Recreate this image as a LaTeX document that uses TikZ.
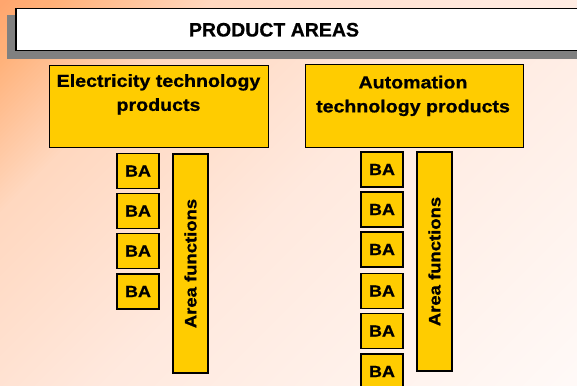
\documentclass[tikz,border=0pt]{standalone}
\usepackage{fontspec}
\setmainfont{Liberation Sans}
\newfontfamily\boxfont{Liberation Sans Bold}[FakeStretch=1.12, FakeBold=0.8]
\newfontfamily\titlefont{Liberation Sans Bold}[FakeBold=0.6]
\definecolor{ybox}{RGB}{255,204,0}
\definecolor{shadowgray}{RGB}{128,128,128}
\tikzset{
  ybox/.style={draw=black, fill=ybox, line width=1.2pt, inner sep=0pt, anchor=north west},
  bab/.style={draw=black, fill=ybox, line width=1.2pt, inner sep=0pt, minimum width=42pt, minimum height=35pt, font=\boxfont\fontsize{16}{19}\selectfont},
  afbox/.style={draw=black, fill=ybox, line width=1.2pt, inner sep=0pt, rotate=90, minimum width=219pt, minimum height=35pt, font=\boxfont\fontsize{16.5}{19}\selectfont},
  headtext/.style={inner sep=0pt, anchor=north, align=center, font=\boxfont\fontsize{17.5}{24}\selectfont},
}
\begin{document}
\begin{tikzpicture}[x=1pt,y=-1pt]
\useasboundingbox (0,0) rectangle (577,385);
\clip (0,0) rectangle (577,385);
% diagonal background gradient, drawn as thin bands
\foreach \s in {0,4,...,964}{
  \pgfmathsetmacro\t{\s/962}
  \pgfmathtruncatemacro\gv{\t<0.06 ? 166+12*\t/0.06 : (\t<0.22 ? 178+38*(\t-0.06)/0.16 : (\t<0.5 ? 216+17*(\t-0.22)/0.28 : 233+17*(\t-0.5)/0.5))}
  \pgfmathtruncatemacro\bv{\t<0.06 ? 110+12*\t/0.06 : (\t<0.22 ? 122+70*(\t-0.06)/0.16 : (\t<0.5 ? 192+30*(\t-0.22)/0.28 : 222+26*(\t-0.5)/0.5))}
  \definecolor{bandc}{RGB}{255,\gv,\bv}
  \fill[bandc] (\s,0) -- (\s+5,0) -- (\s+5-420,420) -- (\s-420,420) -- cycle;
}
% title
\fill[shadowgray] (7,15) rectangle (600,59);
\node[draw=black, fill=white, line width=1.5pt, inner sep=0pt, anchor=north west, minimum width=580pt, minimum height=42pt] (titlebox) at (15,8) {};
\node[inner sep=0pt, anchor=base, font=\titlefont\fontsize{19.5}{22}\selectfont] (titletext) at (274,36.5) {PRODUCT AREAS};
% area boxes
\node[ybox, minimum width=219pt, minimum height=82pt] (elec) at (49,65) {};
\node[headtext] (electext) at (158.5,74) {Electricity technology\\products};
\node[ybox, minimum width=218pt, minimum height=83pt] (auto) at (305,64) {};
\node[headtext] (autotext) at (413,75.5) {Automation\\technology products};
% left column
\node[bab] (l1) at (138,171) {BA};
\node[bab] (l2) at (138,211) {BA};
\node[bab] (l3) at (138,251) {BA};
\node[bab] (l4) at (138,291.5) {BA};
\node[afbox] (laf) at (190.5,263.5) {Area functions};
% right column
\node[bab] (r1) at (382,169.5) {BA};
\node[bab] (r2) at (382,209.5) {BA};
\node[bab] (r3) at (382,249.5) {BA};
\node[bab] (r4) at (382,291) {BA};
\node[bab] (r5) at (382,331) {BA};
\node[bab] (r6) at (382,371.5) {BA};
\node[afbox] (raf) at (434.5,261.5) {Area functions};
\end{tikzpicture}
\end{document}
